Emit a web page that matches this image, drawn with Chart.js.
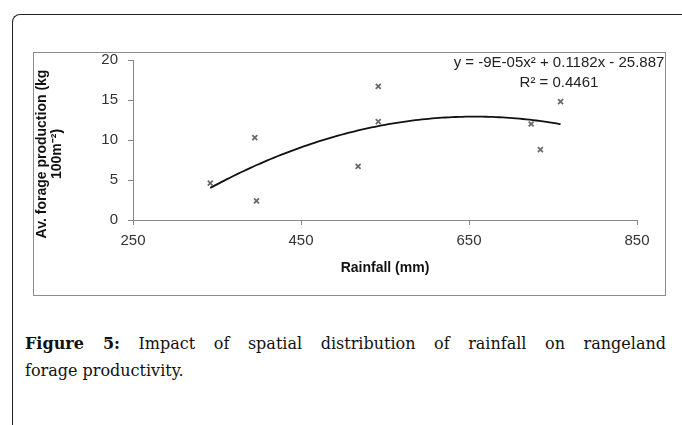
<!DOCTYPE html>
<html>
<head>
<meta charset="utf-8">
<script src="https://cdn.jsdelivr.net/npm/chart.js@4"></script>
<style>
  html, body { margin: 0; padding: 0; background: #fff; }
  body { width: 682px; height: 425px; position: relative; overflow: hidden; }
  .frame {
    position: absolute; left: 12px; top: 14px; width: 700px; height: 450px;
    border-left: 1px solid #222; border-top: 1px solid #222; border-top-left-radius: 8px;
  }
  .box {
    position: absolute; left: 33px; top: 52px; width: 631px; height: 242px;
    border: 1px solid #8c8c8c;
  }
  #myChart { position: absolute; left: 34px; top: 40px; }
  .caption {
    position: absolute; left: 25px; width: 641px; top: 330px;
    font-family: 'DejaVu Serif', serif; font-size: 16px; line-height: 27px; color: #111;
  }
  .caption .l1 { text-align: justify; text-align-last: justify; }
  .caption b { font-weight: bold; }
</style>
</head>
<body>
<div class="frame"></div>
<div class="box"></div>
<canvas id="myChart" width="631" height="255"></canvas>
<div class="caption">
  <div class="l1"><b>Figure 5:</b> Impact of spatial distribution of rainfall on rangeland</div>
  <div>forage productivity.</div>
</div>
<script>
var rainfall = [342, 395, 397, 518, 542, 542, 724, 735, 759];
var forage = [4.6, 10.3, 2.4, 6.7, 16.7, 12.3, 12.0, 8.8, 14.8];
// polynomial trendline as printed on the chart
var trendCoef = [-9e-05, 0.1182, -25.887];
var equationLines = ['y = -9E-05x\u00b2 + 0.1182x - 25.887', 'R\u00b2 = 0.4461'];
var yTitleLines = ['Av. forage production (kg', '100m\u207b\u00b2)'];

var FONT = "'Liberation Sans Narrow', 'Liberation Sans', sans-serif";
var axisColor = '#868686';

var points = rainfall.map(function (x, i) { return { x: x, y: forage[i] }; });
var trend = [];
var xMin = Math.min.apply(null, rainfall), xMax = Math.max.apply(null, rainfall);
for (var x = xMin; x <= xMax; x += 4) {
    trend.push({ x: x, y: trendCoef[0] * x * x + trendCoef[1] * x + trendCoef[2] });
}
trend.push({ x: xMax, y: trendCoef[0] * xMax * xMax + trendCoef[1] * xMax + trendCoef[2] });

// equation box + y axis title (Excel puts it a bit below the plot centre)
var extraText = {
    id: 'extraText',
    afterDraw: function (chart) {
        var c = chart.ctx;
        c.save();
        c.font = '15px ' + FONT;
        c.fillStyle = '#222';
        c.textAlign = 'center';
        c.textBaseline = 'middle';
        c.fillText(equationLines[0], 525, 23);
        c.fillText(equationLines[1], 525, 43);

        c.font = 'bold 14px ' + FONT;
        c.fillStyle = '#111';
        c.translate(0, 114);
        c.rotate(-Math.PI / 2);
        c.fillText(yTitleLines[0], 0, 8);
        c.fillText(yTitleLines[1], 0, 23.5);
        c.restore();
    }
};

var ctx = document.getElementById('myChart').getContext('2d');
var myChart = new Chart(ctx, {
    type: 'scatter',
    data: {
        datasets: [{
            label: 'Forage',
            data: points,
            pointStyle: 'crossRot',
            pointRadius: 3.5,
            borderColor: '#6a6a6a',
            borderWidth: 1.8,
            backgroundColor: '#6a6a6a'
        }, {
            label: 'Trend',
            type: 'line',
            data: trend,
            borderColor: '#111',
            borderWidth: 1.8,
            pointRadius: 0,
            fill: false,
            tension: 0
        }]
    },
    options: {
        responsive: false,
        animation: false,
        layout: { padding: { left: 0, top: 20, right: 28, bottom: 0 }, autoPadding: false },
        plugins: {
            legend: { display: false },
            tooltip: { enabled: false }
        },
        scales: {
            x: {
                type: 'linear',
                min: 250, max: 850,
                afterFit: function (s) { s.height = 75; s.paddingLeft = 0; s.paddingRight = 0; },
                ticks: { stepSize: 200, padding: 7, color: '#333', font: { family: FONT, size: 15 } },
                grid: { drawOnChartArea: false, tickLength: 5, color: axisColor },
                border: { color: axisColor },
                title: {
                    display: true, text: 'Rainfall (mm)', color: '#111',
                    font: { family: FONT, size: 14, weight: 'bold', lineHeight: 1.1 },
                    padding: { top: 0, bottom: 19 }
                }
            },
            y: {
                min: 0, max: 20,
                afterFit: function (s) { s.width = 99; s.paddingTop = 0; s.paddingBottom = 0; },
                ticks: { stepSize: 5, padding: 10, color: '#333', font: { family: FONT, size: 15 } },
                grid: { drawOnChartArea: false, tickLength: 5, color: axisColor },
                border: { color: axisColor },
                title: { display: false }
            }
        }
    },
    plugins: [extraText]
});
</script>
</body>
</html>
